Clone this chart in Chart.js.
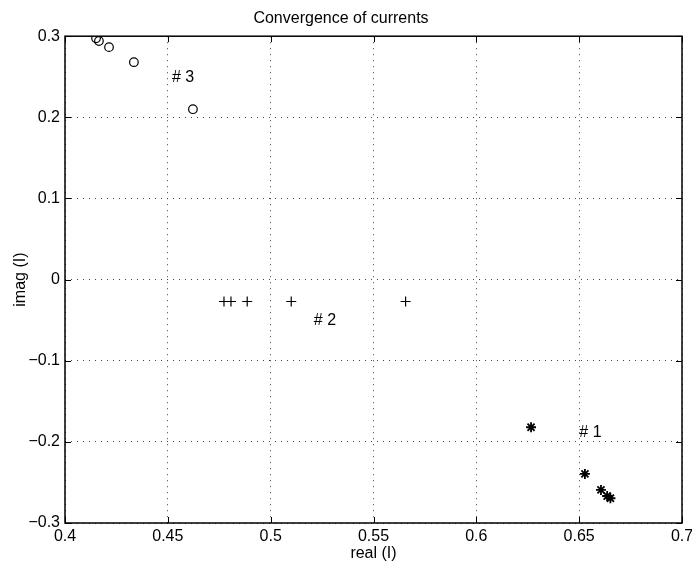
<!DOCTYPE html>
<html>
<head>
<meta charset="utf-8">
<script src="https://cdn.jsdelivr.net/npm/chart.js@4"></script>
<style>
  html, body { margin: 0; padding: 0; background: #fff; }
  canvas { display: block; }
</style>
</head>
<body>
<canvas id="convChart" width="692" height="566"></canvas>
<script>
// iterations for each current (#3 circles, #2 plus, #1 stars)
const circleX = [0.4151, 0.4165, 0.4214, 0.4335, 0.4622];
const circleY = [0.2975, 0.2940, 0.2865, 0.2680, 0.2100];
const plusX = [0.4773, 0.4807, 0.4886, 0.5100, 0.5656];
const plusY = [-0.027, -0.027, -0.027, -0.027, -0.027];
const starX = [0.6266, 0.6528, 0.6606, 0.6636, 0.6652];
const starY = [-0.182, -0.2395, -0.2592, -0.2667, -0.2695];

// text notes next to each group
const noteText = ['# 1', '# 2', '# 3'];
const noteX = [0.6555, 0.5264, 0.4574];
const noteY = [-0.189, -0.050, 0.2495];

// ticks
const xTicks = [0.4, 0.45, 0.5, 0.55, 0.6, 0.65, 0.7];
const xTickLabels = ['0.4', '0.45', '0.5', '0.55', '0.6', '0.65', '0.7'];
const yTicks = [-0.3, -0.2, -0.1, 0, 0.1, 0.2, 0.3];
const yTickLabels = ['\u22120.3', '\u22120.2', '\u22120.1', '0', '0.1', '0.2', '0.3'];

const FONT = '"Liberation Sans", Arial, Helvetica, sans-serif';

function toPoints(xs, ys) {
    return xs.map((v, i) => ({ x: v, y: ys[i] }));
}

// frame, inward tick marks and the # labels
const decorations = {
    id: 'decorations',
    afterDraw(chart) {
        const ctx = chart.ctx;
        const a = chart.chartArea;
        const x = chart.scales.x;
        const y = chart.scales.y;
        ctx.save();
        ctx.strokeStyle = '#000';
        ctx.lineWidth = 1;
        ctx.beginPath();
        xTicks.forEach(v => {
            const px = Math.round(x.getPixelForValue(v)) + 0.5;
            ctx.moveTo(px, a.bottom); ctx.lineTo(px, a.bottom - 6);
            ctx.moveTo(px, a.top); ctx.lineTo(px, a.top + 6);
        });
        yTicks.forEach(v => {
            const py = Math.round(y.getPixelForValue(v)) + 0.5;
            ctx.moveTo(a.left, py); ctx.lineTo(a.left + 6, py);
            ctx.moveTo(a.right, py); ctx.lineTo(a.right - 6, py);
        });
        ctx.stroke();
        ctx.lineWidth = 1.5;
        ctx.strokeRect(a.left, a.top, a.right - a.left, a.bottom - a.top);

        ctx.fillStyle = '#000';
        ctx.font = '16px ' + FONT;
        ctx.textAlign = 'center';
        ctx.textBaseline = 'middle';
        noteText.forEach((t, i) => {
            ctx.fillText(t, x.getPixelForValue(noteX[i]), y.getPixelForValue(noteY[i]));
        });
        ctx.restore();
    }
};

new Chart(document.getElementById('convChart').getContext('2d'), {
    type: 'scatter',
    data: {
        datasets: [{
            label: '#3',
            data: toPoints(circleX, circleY),
            pointStyle: 'circle',
            pointRadius: 4.3,
            backgroundColor: 'rgba(0,0,0,0)',
            borderColor: '#000',
            borderWidth: 1.2
        }, {
            label: '#2',
            data: toPoints(plusX, plusY),
            pointStyle: 'cross',
            pointRadius: 5,
            borderColor: '#000',
            borderWidth: 1.2
        }, {
            label: '#1',
            data: toPoints(starX, starY),
            pointStyle: 'star',
            pointRadius: 5,
            borderColor: '#000',
            borderWidth: 1.8
        }]
    },
    options: {
        responsive: false,
        animation: false,
        layout: {
            padding: { left: 0, right: 10, top: 0, bottom: 0 }
        },
        plugins: {
            legend: { display: false },
            tooltip: { enabled: false },
            title: {
                display: true,
                text: 'Convergence of currents',
                color: '#000',
                font: { family: FONT, size: 16, weight: 'normal' },
                padding: { top: 9, bottom: 8 }
            }
        },
        scales: {
            x: {
                type: 'linear',
                min: 0.4,
                max: 0.7,
                afterBuildTicks: s => { s.ticks = xTicks.map(v => ({ value: v })); },
                afterFit: s => { s.height = 43; s.paddingLeft = 0; s.paddingRight = 0; },
                ticks: {
                    color: '#000',
                    padding: 4,
                    maxRotation: 0,
                    font: { family: FONT, size: 16 },
                    callback: (v, i) => xTickLabels[i]
                },
                grid: { color: '#444', lineWidth: 1, drawTicks: false },
                border: { display: false, dash: [1, 5] },
                title: {
                    display: true,
                    text: 'real (I)',
                    color: '#000',
                    font: { family: FONT, size: 16 },
                    padding: { top: 0, bottom: 3 }
                }
            },
            y: {
                type: 'linear',
                min: -0.3,
                max: 0.3,
                afterBuildTicks: s => { s.ticks = yTicks.map(v => ({ value: v })); },
                afterFit: s => { s.width = 65; },
                ticks: {
                    color: '#000',
                    padding: 5,
                    font: { family: FONT, size: 16 },
                    callback: (v, i) => yTickLabels[i]
                },
                grid: { color: '#444', lineWidth: 1, drawTicks: false },
                border: { display: false, dash: [1, 5] },
                title: {
                    display: true,
                    text: 'imag (I)',
                    color: '#000',
                    font: { family: FONT, size: 16 },
                    padding: { top: 11, bottom: 0 }
                }
            }
        }
    },
    plugins: [decorations]
});
</script>
</body>
</html>
